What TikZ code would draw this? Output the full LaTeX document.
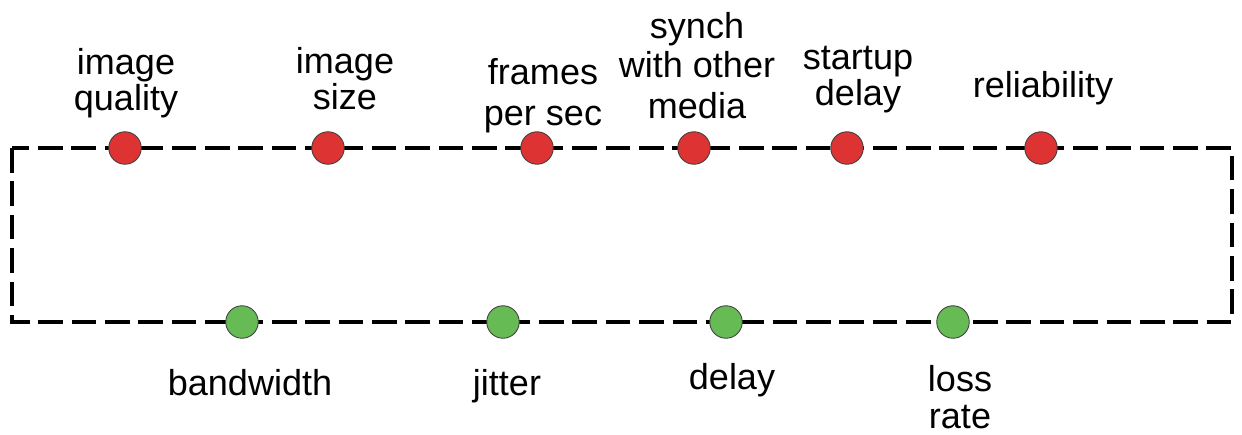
\documentclass[tikz,border=0pt]{standalone}
\usepackage{fontspec}
\setmainfont{Liberation Sans}
\definecolor{qosred}{HTML}{DD3333}
\definecolor{netgreen}{HTML}{66BB55}
\begin{document}
\begin{tikzpicture}
[x=0.02cm,y=-0.02cm,
 dot/.style={circle,minimum size=0.65cm,inner sep=0pt,draw=black!75,line width=0.5pt},
 appdot/.style={dot,fill=qosred},
 netdot/.style={dot,fill=netgreen},
 txt/.style={align=center,inner sep=0pt,anchor=base,
   font=\fontsize{20.5}{20}\selectfont}]
\useasboundingbox (0,0) rectangle (1242,434);
% the dashed frame
\coordinate (nw) at (12,148);
\coordinate (se) at (1232,322);
\draw [line width=2.3pt,dash pattern=on 14pt off 5pt] (nw) rectangle (se);
% application side (top)
\node [appdot] (quality) at (125,148) {};
\node [appdot] (size)    at (328,148) {};
\node [appdot] (fps)     at (537,148) {};
\node [appdot] (synch)   at (694,148) {};
\node [appdot] (startup) at (847,148) {};
\node [appdot] (reliab)  at (1041,148) {};
\node [txt] (quality-l) at (126,110) {image\\quality};
\node [txt] (size-l)    at (345,109) {image\\size};
\node [txt] (fps-l)     at (543,125) {frames\\[3pt]per sec};
\node [txt] (synch-l)   at (697,118) {synch\\[2pt]with other\\[3pt]media};
\node [txt] (startup-l) at (858,105) {startup\\delay};
\node [txt] (reliab-l)  at (1043,97) {reliability};
% network side (bottom)
\node [netdot] (bw)     at (242,322) {};
\node [netdot] (jitter) at (503,322) {};
\node [netdot] (delay)  at (726,322) {};
\node [netdot] (loss)   at (953,322) {};
\node [txt] (bw-l)     at (250,395) {bandwidth};
\node [txt] (jitter-l) at (507,395) {jitter};
\node [txt] (delay-l)  at (732,389) {delay};
\node [txt] (loss-l)   at (960,428) {loss\\[1pt]rate};
\end{tikzpicture}
\end{document}
